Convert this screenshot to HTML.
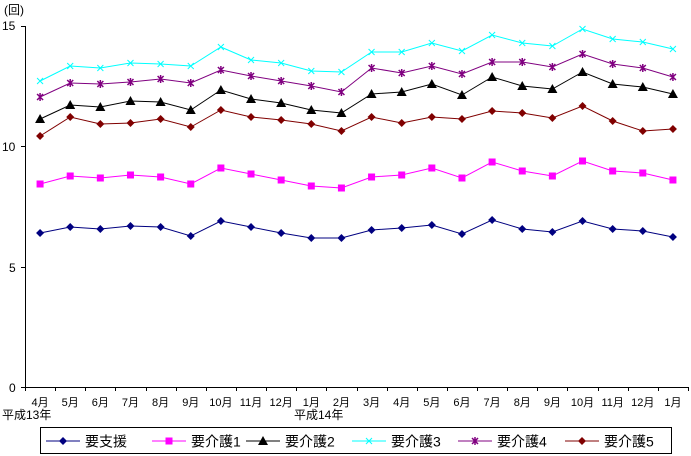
<!DOCTYPE html>
<html><head><meta charset="utf-8"><style>
html,body{margin:0;padding:0;background:#fff;}
svg{display:block;font-family:"Liberation Sans","Noto Sans CJK JP",sans-serif;}
</style></head><body>
<svg id="c" width="691" height="456" viewBox="0 0 691 456" xmlns="http://www.w3.org/2000/svg">
<text x="4" y="14" font-size="12">(回)</text>
<text x="2" y="30" font-size="12">15</text>
<text x="2" y="151" font-size="12">10</text>
<text x="9" y="272" font-size="12">5</text>
<text x="9" y="392" font-size="12">0</text>
<line x1="25.5" y1="26" x2="25.5" y2="387" stroke="#000"/>
<line x1="25" y1="387.5" x2="688" y2="387.5" stroke="#000"/>
<line x1="21" y1="26.5" x2="25" y2="26.5" stroke="#000"/>
<line x1="21" y1="146.5" x2="25" y2="146.5" stroke="#000"/>
<line x1="21" y1="267.5" x2="25" y2="267.5" stroke="#000"/>
<line x1="21" y1="387.5" x2="25" y2="387.5" stroke="#000"/>
<g id="ticks"></g>
<g id="xl" font-size="11"></g>
<text x="2" y="419" font-size="12">平成13年</text>
<text x="294" y="419" font-size="12">平成14年</text>
<g id="series"></g>
<rect x="40.5" y="427.5" width="631" height="26" fill="none" stroke="#000"/>
<g id="leg" font-size="14"></g>
</svg>
<script>
var ns="http://www.w3.org/2000/svg";
function el(t,a,p,txt){var e=document.createElementNS(ns,t);for(var k in a)e.setAttribute(k,a[k]);if(txt)e.textContent=txt;p.appendChild(e);return e;}
var W=(688-25)/22;
var ticks=document.getElementById('ticks'),xl=document.getElementById('xl');
var months=["4月","5月","6月","7月","8月","9月","10月","11月","12月","1月","2月","3月","4月","5月","6月","7月","8月","9月","10月","11月","12月","1月"];
for(var i=0;i<=22;i++){var x=Math.round(25+i*W)+0.5;el('line',{x1:x,y1:387,x2:x,y2:391,stroke:'#000'},ticks);}
for(var i=0;i<22;i++){var cx=25+W*(i+0.5);el('text',{x:cx,y:406,'text-anchor':'middle'},xl,months[i]);}
var data=[
["#000080","d",[233,227,229,226,227,236,221,227,233,238,238,230,228,225,234,220,229,232,221,229,231,237]],
["#ff00ff","s",[184,176,178,175,177,184,168,174,180,186,188,177,175,168,178,162,171,176,161,171,173,180]],
["#000000","t",[119,105,107,101,102,110,90,99,103,110,113,94,92,84,95,77,86,89,72,84,87,94]],
["#00ffff","x",[81,66,68,63,64,66,47,60,63,71,72,52,52,43,51,35,43,46,29,39,42,49]],
["#800080","a",[97,83,84,82,79,83,70,76,81,86,92,68,73,66,74,62,62,67,54,64,68,77]],
["#800000","d",[136,117,124,123,119,127,110,117,120,124,131,117,123,117,119,111,113,118,106,121,131,129]]];
var g=document.getElementById('series');
function mk(t,x,y,c,p){
 if(t=="d")el('polygon',{points:(x)+","+(y-4)+" "+(x+4)+","+y+" "+x+","+(y+4)+" "+(x-4)+","+y,fill:c},p);
 else if(t=="s")el('rect',{x:x-3.5,y:y-3.5,width:7,height:7,fill:c},p);
 else if(t=="t")el('polygon',{points:x+","+(y-5)+" "+(x+5)+","+(y+4)+" "+(x-5)+","+(y+4),fill:c},p);
 else if(t=="x"){el('path',{d:"M"+(x-3)+" "+(y-3)+"L"+(x+3)+" "+(y+3)+"M"+(x+3)+" "+(y-3)+"L"+(x-3)+" "+(y+3),stroke:c,fill:'none'},p);}
 else {el('path',{d:"M"+(x-3)+" "+(y-3)+"L"+(x+3)+" "+(y+3)+"M"+(x+3)+" "+(y-3)+"L"+(x-3)+" "+(y+3)+"M"+x+" "+(y-4)+"L"+x+" "+(y+4),stroke:c,fill:'none','stroke-width':1.5},p);}
}
data.forEach(function(s){
 var pts=s[2].map(function(y,i){return (25+W*(i+0.5)).toFixed(1)+","+y;}).join(" ");
 el('polyline',{points:pts,fill:'none',stroke:s[0],'stroke-width':1},g);
 s[2].forEach(function(y,i){mk(s[1],25+W*(i+0.5),y,s[0],g);});
});
var leg=document.getElementById('leg');
var names=["要支援","要介護1","要介護2","要介護3","要介護4","要介護5"];
var lx=[46,152,246,352,458,565];
for(var i=0;i<6;i++){
 var x=lx[i],y=441;
 el('line',{x1:x,y1:y,x2:x+34,y2:y,stroke:data[i][0]},leg);
 mk(data[i][1],x+17,y,data[i][0],leg);
 el('text',{x:x+39,y:y+5.5},leg,names[i]);
}
</script>
</body></html>
